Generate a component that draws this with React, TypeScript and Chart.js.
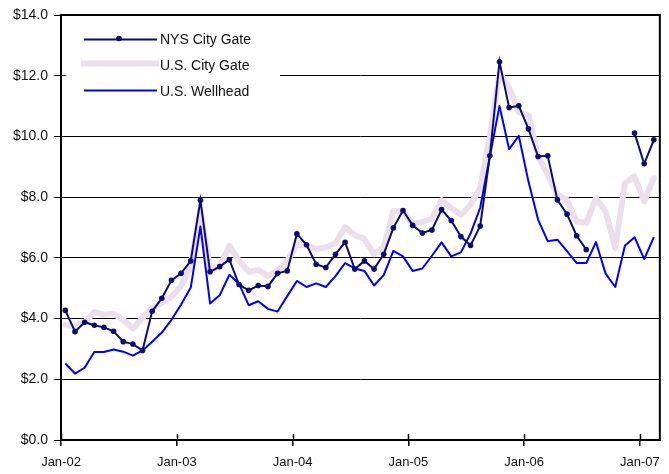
import React, { useEffect, useRef } from "react";
import { Chart, registerables } from "chart.js";

Chart.register(...registerables);

const seriesNames = ["NYS City Gate", "U.S. City Gate", "U.S. Wellhead"];
const yearLabels = ["Jan-02", "Jan-03", "Jan-04", "Jan-05", "Jan-06", "Jan-07"];
const yTicks = [0, 2, 4, 6, 8, 10, 12, 14];

// monthly, Jan-02 .. Feb-07 (62 months)
const nysCityGate: (number | null)[] = [
  4.27, 3.57, 3.88, 3.78, 3.71, 3.58, 3.24, 3.16, 2.95, 4.24, 4.67, 5.26,
  5.49, 5.9, 7.9, 5.54, 5.71, 5.94, 5.12, 4.93, 5.09, 5.06, 5.49, 5.57,
  6.79, 6.43, 5.79, 5.68, 6.12, 6.51, 5.63, 5.9, 5.63, 6.12, 6.99, 7.56,
  7.07, 6.82, 6.92, 7.59, 7.23, 6.7, 6.41, 7.05, 9.36, 12.46, 10.95, 11.01,
  10.25, 9.34, 9.36, 7.91, 7.44, 6.73, 6.27, null, null, null, null, 10.11,
  9.1, 9.89,
];
const usCityGate: number[] = [
  3.8, 3.74, 3.88, 4.21, 4.13, 4.16, 3.96, 3.67, 4.02, 4.35, 4.52, 4.72,
  5.07, 5.74, 7.62, 5.63, 5.71, 6.4, 5.9, 5.54, 5.6, 5.4, 5.57, 5.9,
  6.43, 6.4, 6.29, 6.35, 6.48, 7.01, 6.75, 6.62, 6.12, 6.35, 7.54, 7.54,
  7.12, 7.18, 7.29, 7.9, 7.64, 7.42, 7.75, 8.3, 10.0, 12.1, 11.6, 10.8,
  10.7, 9.34, 8.74, 8.08, 7.91, 7.2, 7.15, 7.97, 7.53, 6.33, 8.46, 8.68,
  7.86, 8.63,
];
const usWellhead: number[] = [
  2.52, 2.19, 2.38, 2.9, 2.9, 2.98, 2.91, 2.78, 2.95, 3.24, 3.54, 3.96,
  4.46, 5.02, 7.03, 4.5, 4.77, 5.44, 5.15, 4.44, 4.57, 4.32, 4.23, 4.74,
  5.24, 5.04, 5.16, 5.04, 5.4, 5.83, 5.65, 5.57, 5.09, 5.43, 6.23, 6.05,
  5.57, 5.65, 6.07, 6.51, 6.05, 6.18, 6.8, 7.65, 9.34, 11.0, 9.58, 10.02,
  8.52, 7.26, 6.55, 6.6, 6.22, 5.83, 5.83, 6.52, 5.48, 5.04, 6.4, 6.68,
  5.96, 6.68,
];

const FONT = "'Liberation Sans', Arial, sans-serif";
const NAVY = "#0b0b72";
const PINK = "#ecdfec";
const BLUE = "#0000ff";
const MONTH_OFFSET = 0.45;

const toPoints = (arr: (number | null)[]) =>
  arr.map((v, i) => ({ x: i + MONTH_OFFSET, y: v }));

const framePlugin = {
  id: "frame",
  beforeDatasetsDraw(chart: any) {
    const { ctx, chartArea: a, scales } = chart;
    ctx.save();
    ctx.strokeStyle = "#000";
    ctx.lineWidth = 2;
    ctx.beginPath();
    ctx.moveTo(a.left, a.top);
    ctx.lineTo(a.right, a.top);
    ctx.lineTo(a.right, a.bottom);
    ctx.lineTo(a.left, a.bottom);
    ctx.closePath();
    ctx.stroke();
    // inner halves of the crossing x tick marks
    ctx.lineWidth = 1.5;
    const xs = scales.x;
    for (const t of xs.ticks) {
      const px = Math.round(xs.getPixelForValue(t.value)) + 0.5;
      ctx.beginPath();
      ctx.moveTo(px, a.bottom);
      ctx.lineTo(px, a.bottom - 6);
      ctx.stroke();
    }
    ctx.restore();
  },
};

const legendPlugin = {
  id: "customLegend",
  afterDatasetsDraw(chart: any) {
    const { ctx } = chart;
    ctx.save();
    ctx.fillStyle = "#fff";
    ctx.fillRect(66, 24, 214, 84);
    const rows = [
      { y: 39.5, ty: 40.5, color: NAVY, width: 2, dot: true, x0: 84, x1: 157 },
      { y: 63.5, ty: 66.5, color: PINK, width: 6, dot: false, x0: 81, x1: 159 },
      { y: 90.5, ty: 92.5, color: BLUE, width: 2, dot: false, x0: 84, x1: 157 },
    ];
    rows.forEach((r, i) => {
      ctx.strokeStyle = r.color;
      ctx.lineWidth = r.width;
      ctx.beginPath();
      ctx.moveTo(r.x0, r.y);
      ctx.lineTo(r.x1, r.y);
      ctx.stroke();
      if (r.dot) {
        ctx.fillStyle = r.color;
        ctx.beginPath();
        ctx.arc(119, r.y - 1, 2.8, 0, Math.PI * 2);
        ctx.fill();
      }
      ctx.fillStyle = "#111";
      ctx.font = `14px ${FONT}`;
      ctx.textBaseline = "middle";
      ctx.textAlign = "left";
      ctx.fillText(seriesNames[i], 160, r.ty);
    });
    ctx.restore();
  },
};

export default function App() {
  const ref = useRef<HTMLCanvasElement | null>(null);

  useEffect(() => {
    if (!ref.current) return;
    const chart = new Chart(ref.current, {
      type: "line",
      data: {
        datasets: [
          {
            label: seriesNames[0],
            data: toPoints(nysCityGate) as any,
            borderColor: NAVY,
            backgroundColor: NAVY,
            borderWidth: 2,
            pointRadius: 2.8,
            pointBorderWidth: 0,
            pointBackgroundColor: NAVY,
            spanGaps: false,
            tension: 0,
            order: 0,
          },
          {
            label: seriesNames[1],
            data: toPoints(usCityGate) as any,
            borderColor: PINK,
            backgroundColor: PINK,
            borderWidth: 6,
            pointRadius: 0,
            tension: 0,
            borderJoinStyle: "round",
            borderCapStyle: "round",
            order: 2,
          },
          {
            label: seriesNames[2],
            data: toPoints(usWellhead) as any,
            borderColor: BLUE,
            backgroundColor: BLUE,
            borderWidth: 2,
            pointRadius: 0,
            tension: 0,
            borderJoinStyle: "round",
            order: 1,
          },
        ],
      },
      options: {
        animation: false,
        responsive: false,
        layout: { padding: { top: 15, right: 8, left: 0, bottom: 0 } },
        plugins: {
          legend: { display: false },
          tooltip: { enabled: false },
        },
        scales: {
          x: {
            type: "linear",
            min: 0,
            max: 62.07,
            afterBuildTicks: (scale: any) => {
              scale.ticks = yearLabels.map((_, i) => ({ value: i * 12 }));
            },
            afterFit: (scale: any) => {
              scale.height = 34;
            },
            ticks: {
              autoSkip: false,
              maxRotation: 0,
              padding: 9,
              color: "#111",
              font: { family: FONT, size: 13 },
              callback: (v: any) => yearLabels[Math.round(Number(v) / 12)] ?? "",
            },
            grid: {
              drawOnChartArea: false,
              drawTicks: true,
              tickLength: 6,
              color: "#000",
              lineWidth: 1.5,
            },
            border: { display: false },
          },
          y: {
            min: 0,
            max: 14,
            afterBuildTicks: (scale: any) => {
              scale.ticks = yTicks.map((v) => ({ value: v }));
            },
            afterFit: (scale: any) => {
              scale.width = 61;
            },
            ticks: {
              padding: 6,
              color: "#111",
              font: { family: FONT, size: 14 },
              callback: (v: any) => "$" + Number(v).toFixed(1),
            },
            grid: {
              color: "#000",
              lineWidth: 1,
              drawTicks: true,
              tickLength: 7,
            },
            border: { display: false },
          },
        },
      },
      plugins: [framePlugin, legendPlugin],
    });
    return () => chart.destroy();
  }, []);

  return (
    <div style={{ position: "absolute", left: 0, top: 0, width: 669, height: 474, background: "#fff" }}>
      <canvas ref={ref} width={669} height={474} style={{ width: 669, height: 474, display: "block" }} />
    </div>
  );
}
